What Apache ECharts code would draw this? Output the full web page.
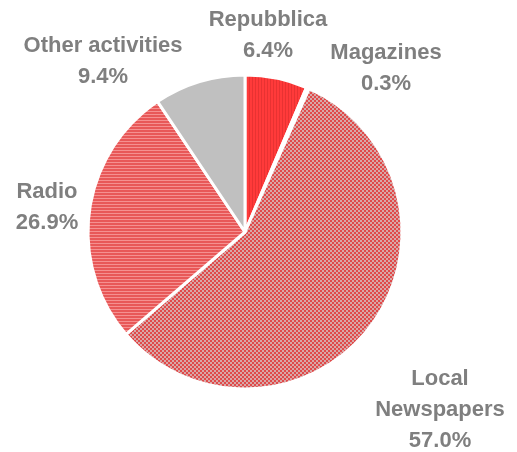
<!DOCTYPE html>
<html><head><meta charset="utf-8">
<script src="https://cdn.jsdelivr.net/npm/echarts@6/dist/echarts.min.js"></script>
<style>html,body{margin:0;padding:0;background:#fff}#c{width:517px;height:452px}</style>
</head><body><div id="c"></div>
<script>
const categories = ['Repubblica', 'Magazines', 'Local\nNewspapers', 'Radio', 'Other activities'];
const values = [6.4, 0.3, 57.0, 26.9, 9.4];

function pat(kind) {
  const c = document.createElement('canvas');
  const ctx = c.getContext('2d');
  if (kind === 'v') {
    c.width = 3; c.height = 3;
    ctx.fillStyle = '#ff3a3a'; ctx.fillRect(0, 0, 3, 3);
    ctx.fillStyle = '#e83232'; ctx.fillRect(0, 0, 1, 3);
  } else if (kind === 'h') {
    c.width = 3; c.height = 3;
    ctx.fillStyle = '#e85858'; ctx.fillRect(0, 0, 3, 3);
    ctx.fillStyle = '#f59090'; ctx.fillRect(0, 0, 3, 1);
  } else {
    c.width = 4; c.height = 4;
    ctx.fillStyle = '#e04a4a'; ctx.fillRect(0, 0, 4, 4);
    ctx.fillStyle = '#d8a8a8'; ctx.fillRect(0, 0, 2, 2); ctx.fillRect(2, 2, 2, 2);
  }
  return { image: c, repeat: 'repeat' };
}
const fills = [pat('v'), pat('c'), pat('c'), pat('h'), '#c0c0c0'];
// label block centres (layout only)
const labelPos = [[268, 35], [386, 68], [440, 410], [47, 207], [103, 61]];

const chart = echarts.init(document.getElementById('c'));
chart.setOption({
  animation: false,
  series: [{
    type: 'pie',
    center: [245, 232],
    radius: 157,
    startAngle: 90,
    clockwise: true,
    data: categories.map((n, i) => ({ name: n, value: values[i], itemStyle: { color: fills[i] } })),
    itemStyle: { borderColor: '#ffffff', borderWidth: 3 },
    label: {
      show: true,
      position: 'outside',
      overflow: 'none',
      edgeDistance: 0,
      formatter: p => p.name + '\n' + p.value.toFixed(1) + '%',
      fontFamily: 'Liberation Sans',
      fontWeight: 'bold',
      fontSize: 22,
      lineHeight: 31,
      color: '#7f7f7f'
    },
    labelLine: { show: false },
    labelLayout: function (p) {
      const q = labelPos[p.dataIndex];
      return { x: q[0], y: q[1], align: 'center', verticalAlign: 'middle' };
    }
  }]
});
</script></body></html>
